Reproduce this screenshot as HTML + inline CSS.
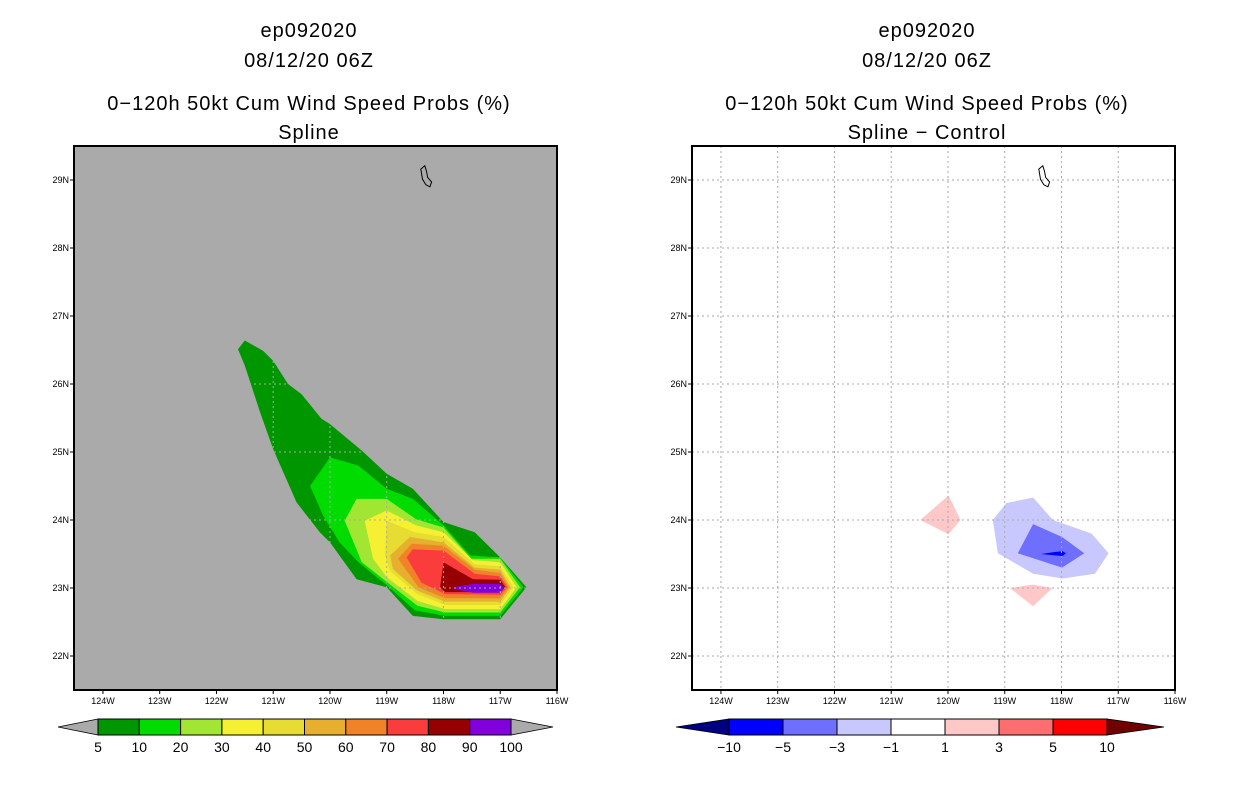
<!DOCTYPE html>
<html><head><meta charset="utf-8"><style>
html,body{margin:0;padding:0;background:#fff;}
svg{display:block;font-family:"Liberation Sans",sans-serif;}
.t{font-size:20px;fill:#000;text-anchor:middle;letter-spacing:1px;}
.tk{font-size:9px;fill:#000;}
.cb{font-size:14px;fill:#000;text-anchor:middle;}
</style></head><body>
<svg id="svg" width="1236" height="800" viewBox="0 0 1236 800">
<g id="L">
<text class="t" x="309" y="37">ep092020</text>
<text class="t" x="309" y="67">08/12/20 06Z</text>
<text class="t" x="309" y="110">0−120h 50kt Cum Wind Speed Probs (%)</text>
<text class="t" x="309" y="139">Spline</text>
</g>
<g id="R">
<text class="t" x="927" y="37">ep092020</text>
<text class="t" x="927" y="67">08/12/20 06Z</text>
<text class="t" x="927" y="110">0−120h 50kt Cum Wind Speed Probs (%)</text>
<text class="t" x="927" y="139">Spline − Control</text>
</g>
</svg>
<script>
// ---- data ----
const lonTicks=[-124,-123,-122,-121,-120,-119,-118,-117,-116];
const latTicks=[22,23,24,25,26,27,28,29];
const probLevels=[5,10,20,30,40,50,60,70,80,90,100];
const probColors=['#009600','#00dc00','#a0e632','#f5f032','#e6dc32','#e6af2d','#f08228','#fa3c3c','#960000','#8200dc'];
const diffLevels=[-10,-5,-3,-1,1,3,5,10];
const diffColors=['#000082','#0000ff','#6e6eff','#c8c8ff','#ffffff','#ffc8c8','#ff6e6e','#ff0000','#700000'];
const prob5=[[-121.62,26.51],[-121.50,26.64],[-121.18,26.49],[-121.0,26.34],[-120.74,26.0],[-120.50,25.85],[-120.15,25.49],[-120.0,25.41],[-119.44,25.02],[-119.0,24.68],[-118.54,24.46],[-118.0,23.97],[-117.45,23.82],[-117.0,23.45],[-116.54,23.01],[-117.0,22.54],[-118.0,22.54],[-118.54,22.59],[-119.0,23.01],[-119.53,23.13],[-120.0,23.67],[-120.18,23.82],[-120.59,24.26],[-121.0,25.04],[-121.23,25.58],[-121.50,26.27]];
const prob10=[[-120.35,24.50],[-120.0,24.92],[-119.50,24.80],[-119.0,24.46],[-118.54,24.31],[-118.0,23.92],[-117.53,23.48],[-117.0,23.45],[-116.59,23.01],[-117.0,22.59],[-117.97,22.59],[-118.50,22.67],[-119.0,23.04],[-119.50,23.38],[-119.83,23.67],[-120.12,24.06]];
const prob20=[[-119.74,23.99],[-119.53,24.31],[-119.0,24.31],[-118.48,24.01],[-118.0,23.89],[-117.51,23.43],[-117.0,23.43],[-116.65,23.01],[-117.0,22.64],[-117.97,22.64],[-118.46,22.74],[-119.0,23.09],[-119.44,23.38]];
const prob30=[[-119.39,23.99],[-119.0,24.14],[-118.48,23.92],[-118.0,23.82],[-117.48,23.41],[-117.0,23.38],[-116.71,23.01],[-117.0,22.69],[-117.97,22.69],[-118.46,22.81],[-119.0,23.16],[-119.24,23.43]];
const prob40=[[-119.0,23.99],[-118.51,23.82],[-118.0,23.75],[-117.45,23.35],[-117.0,23.32],[-116.77,23.01],[-117.0,22.75],[-117.97,22.75],[-118.46,22.91],[-118.94,23.25],[-119.03,23.48]];
const prob50=[[-118.59,23.75],[-118.0,23.67],[-117.45,23.30],[-117.0,23.27],[-116.82,23.01],[-117.0,22.80],[-117.97,22.80],[-118.46,22.96],[-118.89,23.28],[-118.94,23.48]];
const prob60=[[-118.56,23.65],[-118.0,23.62],[-117.45,23.27],[-117.0,23.22],[-116.85,23.01],[-117.0,22.85],[-117.97,22.85],[-118.44,23.01],[-118.80,23.43]];
const prob70=[[-118.54,23.57],[-118.0,23.55],[-117.45,23.21],[-117.0,23.17],[-116.88,23.01],[-117.0,22.90],[-117.97,22.91],[-118.39,23.08],[-118.65,23.45]];
const prob80=[[-118.0,23.38],[-117.48,23.13],[-117.0,23.12],[-116.91,23.01],[-117.0,22.94],[-117.97,22.94],[-118.06,23.01]];
const prob90=[[-117.83,23.01],[-117.48,23.06],[-117.0,23.06],[-116.93,23.0],[-117.0,22.93],[-117.48,22.93],[-117.83,22.99]];
const probContours=[prob5,prob10,prob20,prob30,prob40,prob50,prob60,prob70,prob80,prob90];
const diffPos1a=[[-120.49,24.0],[-119.99,24.36],[-119.78,24.0],[-119.99,23.79]];
const diffPos1b=[[-118.91,23.0],[-118.50,23.05],[-118.16,23.0],[-118.50,22.73]];
const diffNeg1=[[-119.21,24.0],[-118.97,24.25],[-118.50,24.33],[-118.15,24.0],[-117.47,23.80],[-117.17,23.51],[-117.41,23.21],[-117.98,23.14],[-118.50,23.21],[-119.12,23.51]];
const diffNeg3=[[-118.77,23.51],[-118.50,23.94],[-117.99,23.75],[-117.60,23.51],[-117.99,23.30]];
const diffNeg5=[[-118.36,23.50],[-118.12,23.53],[-117.98,23.54],[-117.92,23.51],[-117.98,23.47],[-118.12,23.48]];
const island=[[-118.40,29.16],[-118.33,29.21],[-118.30,29.13],[-118.28,29.04],[-118.21,28.97],[-118.24,28.90],[-118.31,28.93],[-118.37,29.01]];

const NS='http://www.w3.org/2000/svg';
const svg=document.getElementById('svg');
function mk(tag,attrs,parent){const e=document.createElementNS(NS,tag);for(const k in attrs)e.setAttribute(k,attrs[k]);(parent||svg).appendChild(e);return e;}
const LON0=-124.51,LON1=-116.0,LAT0=21.5,LAT1=29.5;
function panel(x0,parentId,bg,contours,colors,names){
  const W=483,H=544,Y0=146,g=document.getElementById(parentId);
  const sx=lon=>x0+(lon-LON0)/(LON1-LON0)*W;
  const sy=lat=>Y0+(LAT1-lat)/(LAT1-LAT0)*H;
  const r=mk('rect',{x:x0,y:Y0,width:W,height:H,fill:bg},g);
  
  
  contours.forEach((c,i)=>{
    const p=mk('polygon',{points:c.map(q=>sx(q[0]).toFixed(1)+','+sy(q[1]).toFixed(1)).join(' '),fill:colors[i]},g);
    
    
  });
  const gc='#aaaaaa';
  lonTicks.forEach(l=>{if(l>-116.05)return;
    const ln=mk('line',{x1:sx(l),x2:sx(l),y1:Y0,y2:Y0+H,stroke:gc,'stroke-width':1,'stroke-dasharray':'2,3'},g);
    
    });
  latTicks.forEach(l=>{
    const ln=mk('line',{x1:x0,x2:x0+W,y1:sy(l),y2:sy(l),stroke:gc,'stroke-width':1,'stroke-dasharray':'2,3'},g);
    
    });
  const is=mk('polygon',{points:island.map(q=>sx(q[0]).toFixed(1)+','+sy(q[1]).toFixed(1)).join(' '),fill:'none',stroke:'#000','stroke-width':1},g);
  
  
  const fr=mk('rect',{x:x0,y:Y0,width:W,height:H,fill:'none',stroke:'#000','stroke-width':2},g);
  
  
  lonTicks.forEach(l=>{
    const tk=mk('line',{x1:sx(l),x2:sx(l),y1:Y0+H,y2:Y0+H+4,stroke:'#000'},g);
    
    
    const t=mk('text',{x:sx(l),y:Y0+H+14,class:'tk','text-anchor':'middle'},g);
    t.textContent=(-l)+'W';
    
    });
  latTicks.forEach(l=>{
    const tk=mk('line',{x1:x0-4,x2:x0,y1:sy(l),y2:sy(l),stroke:'#000'},g);
    
    
    const t=mk('text',{x:x0-5,y:sy(l)+3,class:'tk','text-anchor':'end'},g);
    t.textContent=l+'N';
    
    });
}
panel(74,'L','#aaaaaa',probContours,probColors,['prob-5','prob-10','prob-20','prob-30','prob-40','prob-50','prob-60','prob-70','prob-80','prob-90']);
panel(692,'R','#fff',[diffPos1a,diffPos1b,diffNeg1,diffNeg3,diffNeg5],['#ffc8c8','#ffc8c8','#c8c8ff','#6e6eff','#0000ff'],['diff-pos-a','diff-pos-b','diff-neg-1','diff-neg-3','diff-neg-5']);

function colorbar(parentId,tipL,x0,x1,tipR,colorsBox,leftTri,rightTri,labels){
  const g=document.getElementById(parentId),y0=719,y1=735,ym=727;
  const n=colorsBox.length,w=(x1-x0)/n;
  const a=mk('polygon',{points:`${tipL},${ym} ${x0},${y0} ${x0},${y1}`,fill:leftTri,stroke:'#000','stroke-width':0.8},g);
  
  
  const b=mk('polygon',{points:`${tipR},${ym} ${x1},${y0} ${x1},${y1}`,fill:rightTri,stroke:'#000','stroke-width':0.8},g);
  
  
  colorsBox.forEach((c,i)=>{
    const r=mk('rect',{x:x0+i*w,y:y0,width:w,height:y1-y0,fill:c,stroke:'#000','stroke-width':1},g);
    
    });
  labels.forEach((l,i)=>{
    const t=mk('text',{x:x0+i*w,y:752,class:'cb'},g);
    t.textContent=String(l).replace('-','−');
    
    });
}
colorbar('L',58,98,511,553,probColors,'#aaaaaa','#aaaaaa',probLevels);
colorbar('R',676,729,1107,1164,diffColors.slice(1,8),diffColors[0],diffColors[8],diffLevels);
</script>
</body></html>
